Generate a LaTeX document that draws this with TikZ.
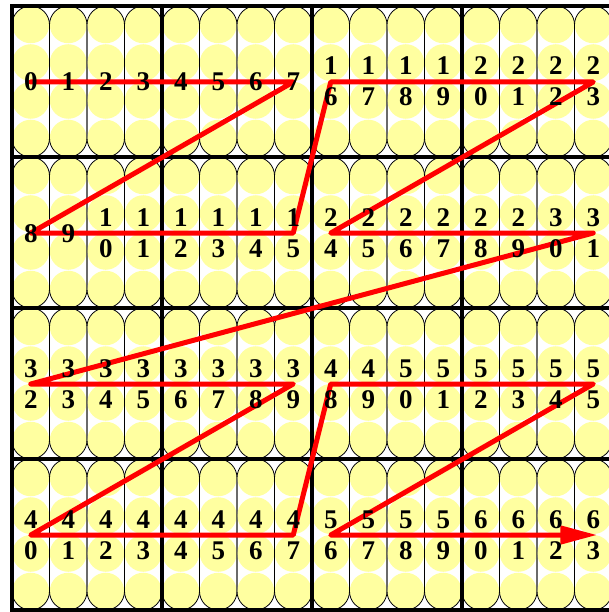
\documentclass[tikz,border=0pt]{standalone}
\usepackage{fontspec}
\setmainfont{Liberation Serif}
\usetikzlibrary{arrows.meta}
\definecolor{cellyellow}{RGB}{255,255,160}
\definecolor{pathred}{RGB}{255,0,0}
\begin{document}
\begin{tikzpicture}[x=1pt,y=-1pt,
  cellcircle/.style={fill=cellyellow,draw=none},
  capsule/.style={draw=black,line width=0.8pt,rounded corners=18.75pt},
  blockline/.style={line width=4.5pt,draw=black,line cap=rect},
  zpath/.style={draw=pathred,line width=5pt,line join=round,line cap=round},
  digit/.style={font=\fontsize{27}{27}\selectfont\bfseries,inner sep=0pt,anchor=base}]
\useasboundingbox (0,0) rectangle (609,612);
\fill[white] (0,0) rectangle (609,612);
% cells
\foreach \r in {0,...,3} {
  \foreach \c in {0,...,15} {
    \pgfmathsetmacro\xl{12+37.5*\c}
    \pgfmathsetmacro\yt{6+151*\r}
    \foreach \k in {0,...,3} {
      \fill[cellcircle] (\xl+18.75,\yt+18.875+37.75*\k) circle[radius=18.4];
    }
    \draw[capsule] (\xl,\yt) rectangle (\xl+37.5,\yt+151);
  }
}
% block lines
\foreach \x in {12,162,312,462,612} {
  \draw[blockline] (\x,6) -- (\x,610);
}
\foreach \y in {6,157,308,459,610} {
  \draw[blockline] (12,\y) -- (612,\y);
}
% coordinates of the numbers
\foreach \n in {0,...,63} {
  \pgfmathtruncatemacro\q{int(\n/16)}
  \pgfmathtruncatemacro\m{mod(\n,16)}
  \pgfmathtruncatemacro\col{8*mod(\q,2)+mod(\m,8)}
  \pgfmathtruncatemacro\row{2*int(\q/2)+int(\m/8)}
  \coordinate (p\n) at (30.75+37.5*\col, 82+151*\row);
}
% red Z path
\draw[zpath,-{Triangle[length=37pt,width=18pt]}]
  (p0) -- (p7) -- (p8) -- (p15) -- (p16) -- (p23) -- (p24) -- (p31)
  -- (p32) -- (p39) -- (p40) -- (p47) -- (p48) -- (p55) -- (p56) -- ([xshift=4pt]p63);
% numbers
\foreach \n in {0,...,63} {
  \ifnum\n<10
    \node[digit] (n\n) at ([yshift=-9pt]p\n) {\n};
  \else
    \pgfmathtruncatemacro\tens{int(\n/10)}
    \pgfmathtruncatemacro\units{mod(\n,10)}
    \node[digit] (t\n) at ([yshift=7pt]p\n) {\tens};
    \node[digit] (u\n) at ([yshift=-24pt]p\n) {\units};
  \fi
}
\end{tikzpicture}
\end{document}
